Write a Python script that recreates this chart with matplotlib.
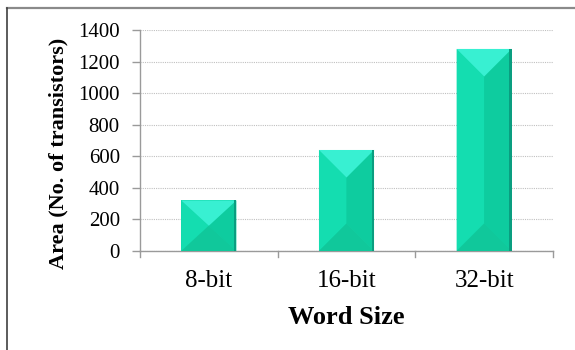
import matplotlib
matplotlib.use("Agg")
import matplotlib.pyplot as plt
from matplotlib.patches import Polygon
from matplotlib.lines import Line2D
import numpy as np

categories = ["8-bit", "16-bit", "32-bit"]
areas = [320, 640, 1280]
y_ticks = [0, 200, 400, 600, 800, 1000, 1200, 1400]

plt.rcParams["font.family"] = ["Liberation Serif", "DejaVu Serif"]

W, H = 575, 350
fig = plt.figure(figsize=(W / 100, H / 100), dpi=100)
ax = fig.add_axes([140 / W, 1 - 251 / H, (553 - 140) / W, (251 - 30) / H])

x = np.arange(len(categories))
bar_w = 0.4
bars = ax.bar(x, areas, width=bar_w, color="#12d6a8", zorder=3, linewidth=0)

ax.set_xlim(-0.5, len(categories) - 0.5)
ax.set_ylim(0, 1400)
ax.set_yticks(y_ticks)
ax.set_yticklabels([str(v) for v in y_ticks], fontsize=15)
ax.set_xticks(x)
ax.set_xticklabels(categories, fontsize=18)
ax.tick_params(axis="x", length=0, pad=14)
ax.tick_params(axis="y", length=5.5, width=1, color="#9a9a9a", pad=9)

# category separators below the x axis
sep = ax.get_xaxis_transform()
for b in np.arange(-0.5, len(categories), 1.0):
    ax.add_line(Line2D([b, b], [0, -0.028], transform=sep, clip_on=False,
                       color="#9a9a9a", lw=1))

ax.grid(axis="y", color="#c0c0c0", linestyle=(0, (1, 1)), lw=0.8, zorder=0)
for side in ["top", "right"]:
    ax.spines[side].set_visible(False)
for side in ["left", "bottom"]:
    ax.spines[side].set_color("#9a9a9a")
    ax.spines[side].set_linewidth(1)

ax.set_ylabel("Area (No. of transistors)", fontsize=16, fontweight="bold",
              labelpad=7, y=0.44)
ax.set_xlabel("Word Size", fontsize=19, fontweight="bold", labelpad=10)

# bevelled faces on each bar, laid out in pixel space
fig.canvas.draw()
to_px = ax.transData
to_data = ax.transData.inverted()
for rect in bars:
    x0, y0 = rect.get_x(), rect.get_y()
    x1, y1 = x0 + rect.get_width(), y0 + rect.get_height()
    (px0, py0), (px1, py1) = to_px.transform([(x0, y0), (x1, y1)])
    cx = (px0 + px1) / 2
    d = min((px1 - px0) / 2, (py1 - py0) / 2)
    faces = [
        ([(px0, py0), (cx, py0 + d), (cx, py1 - d), (px0, py1)], "#14ddb0"),
        ([(px1, py0), (cx, py0 + d), (cx, py1 - d), (px1, py1)], "#0ecc9f"),
        ([(px0, py0), (px1, py0), (cx, py0 + d)], "#10c89b"),
        ([(px0, py1), (px1, py1), (cx, py1 - d)], "#38f0d2"),
        ([(px1 - 2.5, py0), (px1, py0), (px1, py1), (px1 - 2.5, py1)], "#0a9e80"),
    ]
    for pts, col in faces:
        ax.add_patch(Polygon(to_data.transform(pts), closed=True, facecolor=col,
                             edgecolor="none", zorder=4))

# chart frame
fig.add_artist(Line2D([7 / W, 1], [1 - 8 / H, 1 - 8 / H], color="#8a8a8a", lw=1.6))
fig.add_artist(Line2D([7 / W, 7 / W], [0, 1 - 8 / H], color="#404040", lw=1.2))

fig.savefig("out.png", dpi=100)
